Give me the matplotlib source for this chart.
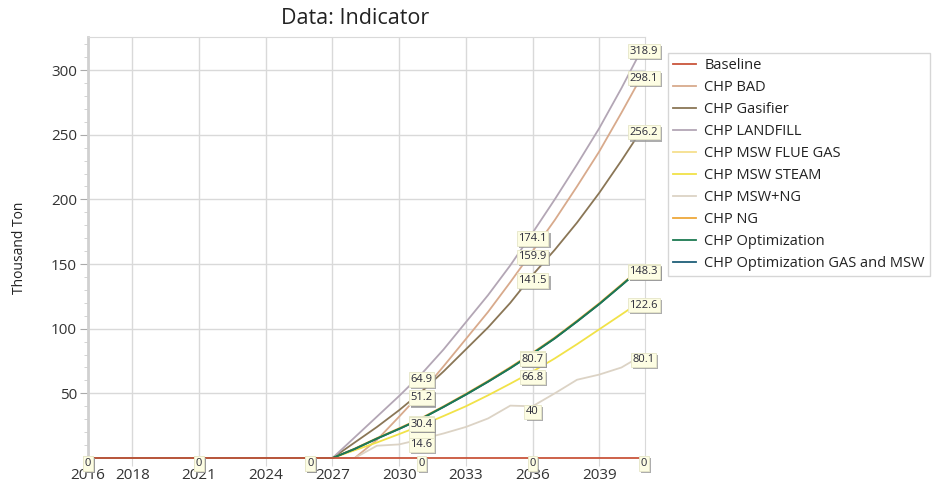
import matplotlib
matplotlib.use("Agg")
import matplotlib.pyplot as plt
import matplotlib.patheffects as pe
from matplotlib.ticker import MultipleLocator, FixedLocator

plt.rcParams['font.family'] = ['Open Sans', 'DejaVu Sans']

years = list(range(2016, 2042))
zeros12 = [0] * 12  # 2016-2027

baseline = [0] * 26
chp_bad = zeros12 + [0, 14, 32, 50.5, 71, 92, 113, 136, 159.9, 184, 210, 237, 267, 298.1]
chp_gasifier = zeros12 + [12, 24, 37, 51.2, 67, 84, 101, 120, 141.5, 161, 182, 205, 230, 256.2]
chp_landfill = zeros12 + [16, 32, 48, 64.9, 84, 105, 126, 149, 174.1, 200, 227, 255, 286, 318.9]
chp_msw_flue = zeros12 + [7.3, 15.4, 23, 30.9, 40, 49.6, 59.6, 70.2, 81.4, 93.2, 106.2, 119.7, 134.2, 149]
chp_msw_steam = zeros12 + [6, 12, 18.5, 25.2, 32.5, 40, 48.5, 57.5, 66.8, 77, 88, 99.5, 111, 122.6]
chp_msw_ng = zeros12 + [0, 9.5, 10.5, 14.6, 19, 24, 30.6, 40.5, 40, 50, 60.5, 64.5, 70, 80.1]
chp_ng = zeros12 + [7.2, 15.3, 22.9, 30.8, 39.9, 49.5, 59.5, 70.1, 81.2, 93, 106, 119.5, 134, 148.8]
chp_opt = zeros12 + [7, 15, 22.5, 30.4, 39.5, 49, 59, 69.5, 80.7, 92.5, 105.5, 119, 133.5, 148.3]
chp_opt_gas_msw = zeros12 + [7, 15, 22.5, 30.4, 39.5, 49, 59, 69.5, 80.7, 92.5, 105.5, 119, 133.5, 148.3]

series_names = ["Baseline", "CHP BAD", "CHP Gasifier", "CHP LANDFILL", "CHP MSW FLUE GAS",
                "CHP MSW STEAM", "CHP MSW+NG", "CHP NG", "CHP Optimization",
                "CHP Optimization GAS and MSW"]
series_values = [baseline, chp_bad, chp_gasifier, chp_landfill, chp_msw_flue,
                 chp_msw_steam, chp_msw_ng, chp_ng, chp_opt, chp_opt_gas_msw]
colors = ["#c9553b", "#d8aa8c", "#8a7656", "#b3a6b5", "#f6df8e",
          "#f1e248", "#dcd3c5", "#eea83a", "#1d7a52", "#1f5f78"]
line_z = [20, 4, 5, 6, 7, 8, 9, 10, 12, 11]

label_years = [2016, 2021, 2026, 2031, 2036, 2041]
x_ticks = [2016, 2018, 2021, 2024, 2027, 2030, 2033, 2036, 2039]

fig = plt.figure(figsize=(9.36, 4.83), dpi=100)
ax = fig.add_axes([88 / 936, 1 - 458 / 483, (645 - 88) / 936, (458 - 37) / 483])

lines = []
for name, vals, c, z in zip(series_names, series_values, colors, line_z):
    ln, = ax.plot(years, vals, color=c, lw=1.3, label=name, zorder=z, clip_on=False)
    lines.append(ln)

# data labels
for i, vals in enumerate(series_values):
    for yr in label_years:
        v = vals[years.index(yr)]
        t = ax.annotate(f"{v:g}", xy=(yr, v), xytext=(0, -4), textcoords="offset points",
                        ha="center", va="center", fontsize=8, color="#2a2a3a",
                        zorder=30 + i, annotation_clip=False,
                        bbox=dict(boxstyle="square,pad=0.15", facecolor="#fdfde3",
                                  edgecolor="#e6e6c8", lw=0.6))
        t.get_bbox_patch().set_path_effects([pe.withSimplePatchShadow(offset=(1.5, -1.5),
                                                                      shadow_rgbFace="#999999",
                                                                      alpha=0.8)])

ax.set_xlim(2016, 2041.06)
ax.set_ylim(0, 325.6)

ax.xaxis.set_major_locator(FixedLocator(x_ticks))
ax.yaxis.set_major_locator(FixedLocator([50, 100, 150, 200, 250, 300]))
ax.yaxis.set_minor_locator(MultipleLocator(10))
ax.grid(True, which="major", color="#d9d9d9", lw=1.0, zorder=0)
ax.set_axisbelow(True)

for s in ["top", "right"]:
    ax.spines[s].set_color("#d9d9d9")
ax.spines["left"].set_color("#d0d0d0")
ax.spines["left"].set_linewidth(2)
ax.spines["bottom"].set_visible(False)

ax.tick_params(axis="x", length=6, color="#d9d9d9", labelsize=11, labelcolor="#333333", pad=1)
ax.tick_params(axis="y", which="major", length=6, color="#aaaaaa", labelsize=11,
               labelcolor="#333333", pad=2)
ax.tick_params(axis="y", which="minor", length=3, color="#cccccc")

ax.set_ylabel("Thousand Ton", fontsize=10, color="#222222", labelpad=17)
fig.text(355 / 936, 1 - 18 / 483, "Data: Indicator", ha="center", va="center",
         fontsize=15.5, color="#222222")

leg = fig.legend(handles=lines, loc="upper left", bbox_to_anchor=(668 / 936, 1 - 53 / 483),
                 fontsize=10.5, frameon=True, handlelength=1.6, handletextpad=0.55,
                 labelspacing=0.48, borderpad=0.35, borderaxespad=0.0,
                 fancybox=False, shadow=False)
leg.get_frame().set_edgecolor("#cccccc")
leg.get_frame().set_linewidth(1.0)
for t in leg.get_texts():
    t.set_color("#222222")

fig.savefig("out.png", dpi=100)
